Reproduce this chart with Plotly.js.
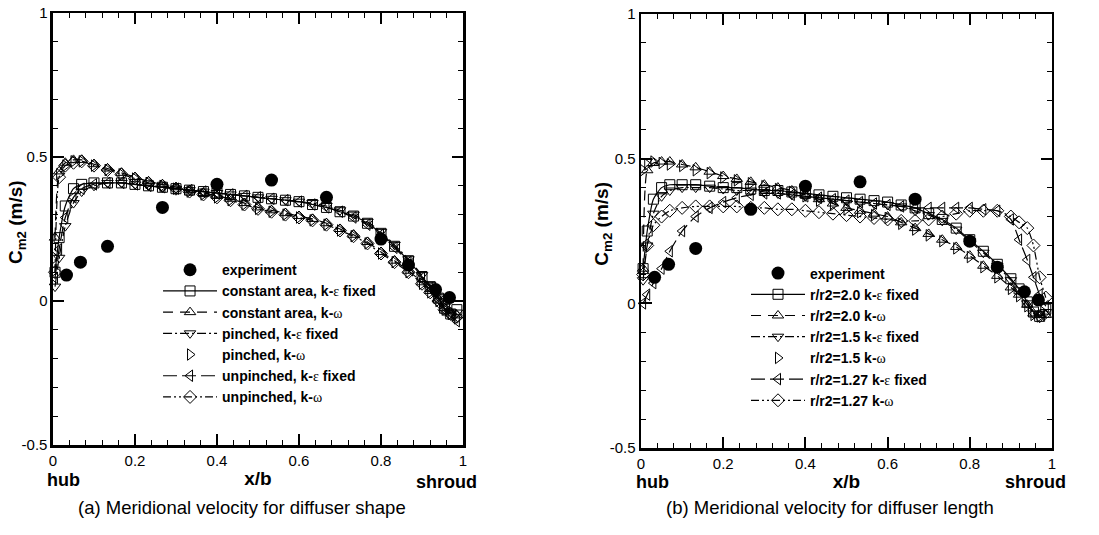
<!DOCTYPE html>
<html>
<head>
<meta charset="utf-8">
<script src="https://cdn.plot.ly/plotly-3.0.1.min.js"></script>
<style>html,body{margin:0;padding:0;background:#fff;}</style>
</head>
<body>
<div id="chart" style="width:1099px;height:535px;"></div>
<script>
// ---------- data ----------
var expX = [0.033, 0.067, 0.133, 0.267, 0.4, 0.533, 0.667, 0.8, 0.867, 0.933, 0.967];
var expY = [0.09, 0.135, 0.19, 0.325, 0.405, 0.42, 0.36, 0.215, 0.125, 0.04, 0.012];

var simX = [0.005, 0.015, 0.03, 0.05, 0.07, 0.1, 0.133, 0.167, 0.2, 0.233, 0.267, 0.3, 0.333, 0.367, 0.4, 0.433, 0.467, 0.5, 0.533, 0.567, 0.6, 0.633, 0.667, 0.7, 0.733, 0.767, 0.8, 0.833, 0.867, 0.9, 0.92, 0.94, 0.955, 0.97, 0.985];

// (a) diffuser shape
var aConstKe = [0.10, 0.22, 0.33, 0.39, 0.405, 0.41, 0.41, 0.41, 0.405, 0.40, 0.395, 0.39, 0.385, 0.38, 0.375, 0.37, 0.365, 0.36, 0.355, 0.35, 0.345, 0.335, 0.325, 0.31, 0.295, 0.27, 0.235, 0.19, 0.14, 0.085, 0.05, 0.01, -0.025, -0.045, -0.03];
var aConstKw = [0.22, 0.45, 0.48, 0.49, 0.49, 0.475, 0.46, 0.445, 0.43, 0.415, 0.405, 0.395, 0.385, 0.375, 0.365, 0.355, 0.34, 0.325, 0.315, 0.305, 0.295, 0.285, 0.27, 0.25, 0.23, 0.205, 0.17, 0.14, 0.105, 0.065, 0.035, 0.005, -0.025, -0.04, -0.05];
var aPinKe   = [0.05, 0.15, 0.26, 0.34, 0.38, 0.40, 0.41, 0.41, 0.405, 0.40, 0.395, 0.39, 0.385, 0.38, 0.375, 0.37, 0.365, 0.36, 0.355, 0.35, 0.345, 0.34, 0.33, 0.315, 0.30, 0.275, 0.24, 0.195, 0.145, 0.09, 0.055, 0.015, -0.02, -0.04, -0.04];
var aPinKw   = [0.15, 0.44, 0.47, 0.485, 0.485, 0.47, 0.455, 0.44, 0.425, 0.41, 0.40, 0.39, 0.38, 0.37, 0.36, 0.35, 0.335, 0.32, 0.31, 0.30, 0.29, 0.28, 0.265, 0.245, 0.225, 0.20, 0.165, 0.135, 0.10, 0.06, 0.03, 0.0, -0.03, -0.045, -0.06];
var aUnpKe   = [0.08, 0.18, 0.29, 0.36, 0.39, 0.405, 0.41, 0.41, 0.405, 0.40, 0.395, 0.39, 0.385, 0.38, 0.375, 0.37, 0.365, 0.36, 0.355, 0.35, 0.345, 0.335, 0.325, 0.31, 0.29, 0.265, 0.23, 0.185, 0.135, 0.08, 0.045, 0.005, -0.03, -0.05, -0.07];
var aUnpKw   = [0.10, 0.43, 0.47, 0.48, 0.485, 0.47, 0.455, 0.44, 0.425, 0.41, 0.40, 0.39, 0.38, 0.37, 0.36, 0.35, 0.335, 0.32, 0.31, 0.30, 0.29, 0.28, 0.265, 0.245, 0.225, 0.20, 0.165, 0.135, 0.10, 0.06, 0.03, 0.0, -0.03, -0.045, -0.055];

// (b) diffuser length
var bKe20  = [0.12, 0.25, 0.36, 0.40, 0.41, 0.41, 0.41, 0.405, 0.40, 0.40, 0.395, 0.39, 0.39, 0.385, 0.38, 0.375, 0.37, 0.365, 0.36, 0.355, 0.35, 0.34, 0.33, 0.31, 0.29, 0.26, 0.22, 0.18, 0.135, 0.085, 0.05, 0.005, -0.03, -0.045, -0.02];
var bKw20  = [0.12, 0.46, 0.485, 0.49, 0.49, 0.48, 0.47, 0.455, 0.44, 0.43, 0.42, 0.41, 0.40, 0.39, 0.375, 0.36, 0.345, 0.33, 0.32, 0.31, 0.30, 0.28, 0.26, 0.24, 0.22, 0.195, 0.165, 0.13, 0.095, 0.055, 0.03, -0.005, -0.035, -0.04, -0.04];
var bKe15  = [0.08, 0.20, 0.31, 0.37, 0.39, 0.40, 0.40, 0.40, 0.395, 0.39, 0.39, 0.385, 0.38, 0.375, 0.37, 0.365, 0.36, 0.355, 0.35, 0.345, 0.34, 0.335, 0.32, 0.305, 0.285, 0.255, 0.215, 0.175, 0.13, 0.08, 0.045, 0.0, -0.035, -0.05, -0.03];
var bKw15  = [0.46, 0.48, 0.49, 0.485, 0.48, 0.475, 0.46, 0.45, 0.435, 0.425, 0.415, 0.405, 0.395, 0.385, 0.37, 0.355, 0.34, 0.325, 0.315, 0.305, 0.295, 0.275, 0.255, 0.235, 0.215, 0.19, 0.16, 0.125, 0.09, 0.05, 0.025, -0.01, -0.04, -0.045, -0.04];
var bKe127 = [0.0, 0.03, 0.07, 0.12, 0.18, 0.25, 0.30, 0.33, 0.35, 0.365, 0.375, 0.38, 0.38, 0.375, 0.37, 0.365, 0.36, 0.355, 0.35, 0.345, 0.34, 0.335, 0.33, 0.33, 0.33, 0.33, 0.33, 0.325, 0.32, 0.29, 0.22, 0.15, 0.09, 0.03, -0.01];
var bKw127 = [0.10, 0.20, 0.27, 0.30, 0.32, 0.33, 0.335, 0.335, 0.335, 0.335, 0.33, 0.33, 0.325, 0.325, 0.32, 0.315, 0.31, 0.305, 0.30, 0.295, 0.29, 0.285, 0.285, 0.29, 0.30, 0.31, 0.32, 0.32, 0.32, 0.30, 0.28, 0.26, 0.20, 0.09, 0.02];

// ---------- ticks ----------
var yTickVals = [-0.5, 0, 0.5, 1];
var yTickText = ['-0.5', '0', '0.5', '1'];
var xTickVals = [0, 0.2, 0.4, 0.6, 0.8, 1];
var xTickText = ['0', '0.2', '0.4', '0.6', '0.8', '1'];
var xMinorVals = [0.04, 0.08, 0.12, 0.16, 0.24, 0.28, 0.32, 0.36, 0.44, 0.48, 0.52, 0.56, 0.64, 0.68, 0.72, 0.76, 0.84, 0.88, 0.92, 0.96];
var yMinorVals = [-0.4, -0.3, -0.2, -0.1, 0.1, 0.2, 0.3, 0.4, 0.6, 0.7, 0.8, 0.9];

var EPS = '<span style="font-family:Liberation Serif;font-weight:normal">ε</span>';
var OMG = '<span style="font-family:Liberation Serif;font-weight:normal">ω</span>';
var namesA = ['experiment', 'constant area, k-' + EPS + ' fixed', 'constant area, k-' + OMG,
              'pinched, k-' + EPS + ' fixed', 'pinched, k-' + OMG,
              'unpinched, k-' + EPS + ' fixed', 'unpinched, k-' + OMG];
var namesB = ['experiment', 'r/r2=2.0 k-' + EPS + ' fixed', 'r/r2=2.0 k-' + OMG,
              'r/r2=1.5 k-' + EPS + ' fixed', 'r/r2=1.5 k-' + OMG,
              'r/r2=1.27 k-' + EPS + ' fixed', 'r/r2=1.27 k-' + OMG];

// ---------- styles ----------
var FONT = 'Liberation Sans, Arial, sans-serif';
var styles = [
  {mode: 'lines+markers', dash: 'solid', symbol: 'square-open'},
  {mode: 'lines+markers', dash: '10px,7px', symbol: 'triangle-up-open'},
  {mode: 'lines+markers', dash: '9px,3px,2px,3px', symbol: 'triangle-down-open'},
  {mode: 'markers', dash: 'solid', symbol: 'triangle-right-open'},
  {mode: 'lines+markers', dash: '14px,5px', symbol: 'triangle-left-open'},
  {mode: 'lines+markers', dash: '8px,3px,2px,3px,2px,3px', symbol: 'diamond-open'}
];

function simTrace(y, idx, name, xa, ya, leg) {
  var s = styles[idx];
  return {
    x: simX, y: y, name: name, type: 'scatter', mode: s.mode,
    xaxis: xa, yaxis: ya, legend: leg,
    line: {color: '#000', width: 1.2, dash: s.dash, shape: 'spline', smoothing: 0.6},
    marker: {symbol: s.symbol, size: 10, color: '#000', line: {width: 1, color: '#000'}},
    cliponaxis: false
  };
}
function expTrace(name, xa, ya, leg) {
  return {
    x: expX, y: expY, name: name, type: 'scatter', mode: 'markers',
    xaxis: xa, yaxis: ya, legend: leg,
    marker: {symbol: 'circle', size: 13, color: '#000'},
    cliponaxis: false
  };
}

var seriesA = [aConstKe, aConstKw, aPinKe, aPinKw, aUnpKe, aUnpKw];
var seriesB = [bKe20, bKw20, bKe15, bKw15, bKe127, bKw127];

var data = [expTrace(namesA[0], 'x', 'y', 'legend')];
seriesA.forEach(function (y, i) { data.push(simTrace(y, i, namesA[i + 1], 'x', 'y', 'legend')); });
data.push(expTrace(namesB[0], 'x2', 'y2', 'legend2'));
seriesB.forEach(function (y, i) { data.push(simTrace(y, i, namesB[i + 1], 'x2', 'y2', 'legend2')); });

function xAxis(domain, anchor) {
  return {
    domain: domain, anchor: anchor, range: [0, 1],
    tickmode: 'array', tickvals: xTickVals, ticktext: xTickText,
    ticks: 'inside', ticklen: 11, tickwidth: 2, tickcolor: '#000',
    showline: true, linewidth: 2.5, linecolor: '#000', mirror: 'ticks',
    showgrid: false, zeroline: false,
    tickfont: {family: FONT, size: 15, color: '#000'},
    minor: {tickmode: 'array', tickvals: xMinorVals, ticks: 'inside', ticklen: 5, tickwidth: 1, tickcolor: '#000', showgrid: false},
    title: {text: 'x/b', standoff: 4, font: {family: FONT, size: 19, color: '#000', weight: 'bold'}}
  };
}
function yAxis(domain, anchor) {
  return {
    domain: domain, anchor: anchor, range: [-0.5, 1],
    tickmode: 'array', tickvals: yTickVals, ticktext: yTickText,
    ticks: 'inside', ticklen: 11, tickwidth: 2, tickcolor: '#000',
    showline: true, linewidth: 2.5, linecolor: '#000', mirror: 'ticks',
    showgrid: false, zeroline: false,
    tickfont: {family: FONT, size: 15, color: '#000'},
    minor: {tickmode: 'array', tickvals: yMinorVals, ticks: 'inside', ticklen: 5, tickwidth: 1, tickcolor: '#000', showgrid: false}
  };
}

function ann(text, x, y, size, bold, angle) {
  return {text: text, x: x, y: y, xref: 'paper', yref: 'paper', xanchor: 'center', yanchor: 'middle',
          textangle: angle || 0, showarrow: false,
          font: {family: FONT, size: size, color: '#000', weight: bold ? 'bold' : 'normal'}};
}

var legendStyle = function (x, y) {
  return {x: x, y: y, xanchor: 'left', yanchor: 'top', bgcolor: 'rgba(0,0,0,0)',
          font: {family: FONT, size: 14, color: '#000', weight: 'bold'}, tracegroupgap: 0, itemwidth: 54};
};

var yTitle = 'C<sub>m2</sub> (m/s)';

var layout = {
  width: 1099, height: 535,
  margin: {l: 0, r: 0, t: 0, b: 0},
  paper_bgcolor: '#fff', plot_bgcolor: '#fff',
  showlegend: true,
  xaxis: xAxis([0.0482, 0.4213], 'y'),
  yaxis: yAxis([0.1682, 0.9757], 'x'),
  xaxis2: xAxis([0.5833, 0.9572], 'y2'),
  yaxis2: yAxis([0.1626, 0.9738], 'x2'),
  legend: legendStyle(0.1438, 0.525),
  legend2: legendStyle(0.6788, 0.5187),
  annotations: [
    ann(yTitle, 0.0155, 0.585, 19, true, -90),
    ann(yTitle, 0.5487, 0.582, 19, true, -90),
    ann('hub', 0.0582, 0.1028, 18, true),
    ann('shroud', 0.4067, 0.0990, 18, true),
    ann('(a) Meridional velocity for diffuser shape', 0.2202, 0.0505, 18.5, false),
    ann('hub', 0.5933, 0.0990, 18, true),
    ann('shroud', 0.9418, 0.0990, 18, true),
    ann('(b) Meridional velocity for diffuser length', 0.7552, 0.0505, 18.5, false)
  ]
};

Plotly.newPlot('chart', data, layout, {displayModeBar: false, staticPlot: true});
</script>
</body>
</html>
